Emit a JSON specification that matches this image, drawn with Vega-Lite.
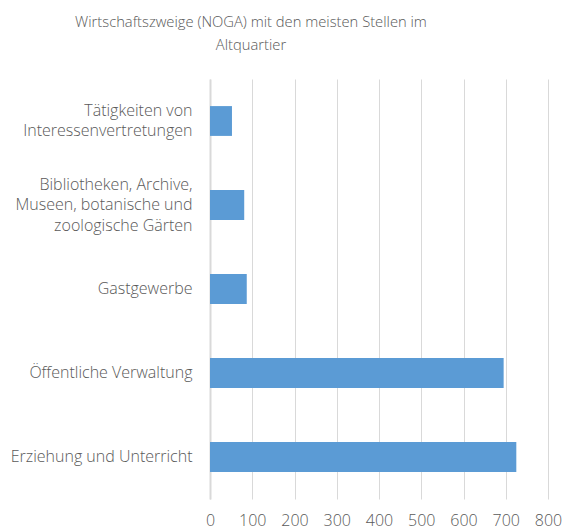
{
  "$schema": "https://vega.github.io/schema/vega-lite/v6.json",
  "width": 338,
  "height": 420,
  "autosize": {"type": "none"},
  "padding": {"left": 210, "top": 79, "right": 17, "bottom": 30},
  "background": "white",
  "config": {"view": {"stroke": null}, "font": "Open Sans"},
  "title": {
    "text": ["Wirtschaftszweige (NOGA) mit den meisten Stellen im", "Altquartier"],
    "anchor": "middle",
    "frame": "group",
    "dx": -128,
    "offset": 26,
    "font": "Open Sans",
    "fontSize": 14.75,
    "fontWeight": 300,
    "color": "#595959",
    "lineHeight": 23
  },
  "data": {
    "values": [
      {"branche": "Tätigkeiten von|Interessenvertretungen", "stellen": 52},
      {"branche": "Bibliotheken, Archive,|Museen, botanische und|zoologische Gärten", "stellen": 81},
      {"branche": "Gastgewerbe", "stellen": 87},
      {"branche": "Öffentliche Verwaltung", "stellen": 695},
      {"branche": "Erziehung und Unterricht", "stellen": 725}
    ]
  },
  "mark": {"type": "bar", "color": "#5b9bd5"},
  "encoding": {
    "y": {
      "field": "branche",
      "type": "nominal",
      "sort": null,
      "scale": {"paddingInner": 0.645, "paddingOuter": 0.3225},
      "axis": {
        "title": null,
        "labelExpr": "split(datum.label, '|')",
        "labelOffset": {"expr": "-(length(split(datum.value, '|')) - 1) * 10.25"},
        "labelFont": "Open Sans",
        "labelFontWeight": 300,
        "labelFontSize": 16,
        "labelColor": "#595959",
        "labelLineHeight": 20.5,
        "labelPadding": 18,
        "labelLimit": 300,
        "ticks": false,
        "domain": true,
        "domainColor": "#d9d9d9",
        "domainWidth": 2,
        "grid": false
      }
    },
    "x": {
      "field": "stellen",
      "type": "quantitative",
      "scale": {"domain": [0, 800], "nice": false},
      "axis": {
        "title": null,
        "values": [0, 100, 200, 300, 400, 500, 600, 700, 800],
        "labelFont": "Open Sans",
        "labelFontWeight": 300,
        "labelFontSize": 16,
        "labelColor": "#595959",
        "labelPadding": 13,
        "labelOverlap": false,
        "labelFlush": false,
        "ticks": false,
        "domain": false,
        "grid": true,
        "gridColor": "#d9d9d9",
        "gridWidth": 1
      }
    }
  }
}
